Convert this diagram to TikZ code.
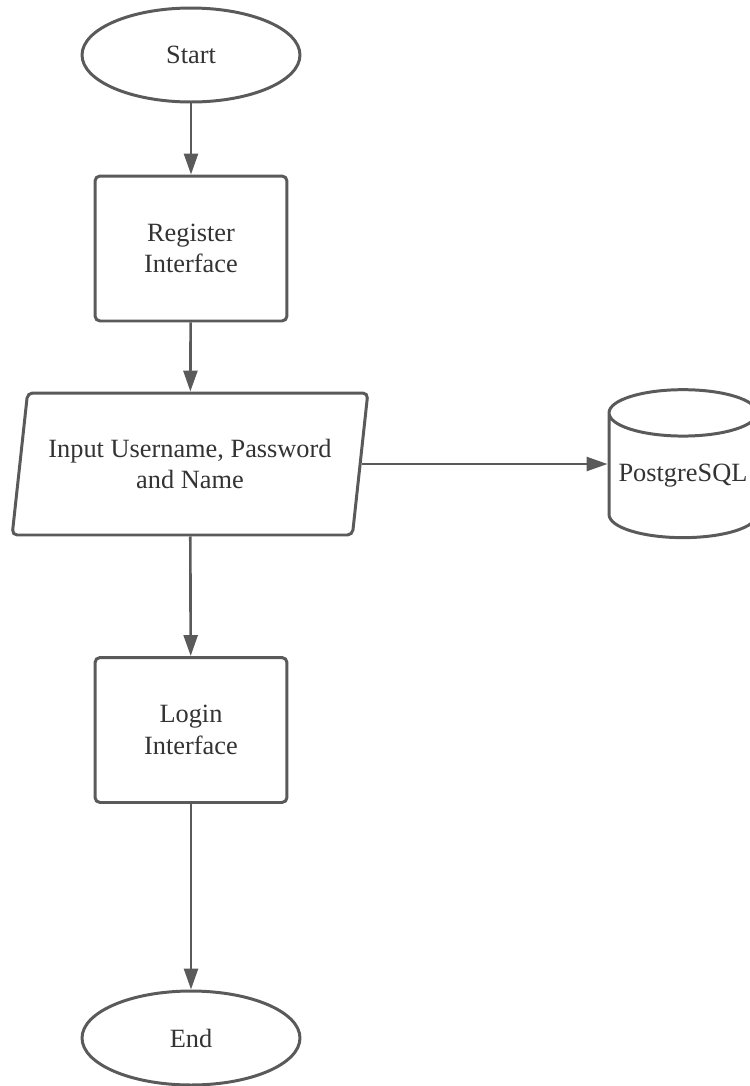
\documentclass[tikz,border=0pt]{standalone}
\usepackage{fontspec}
\setmainfont{Liberation Serif}
\usetikzlibrary{shapes.geometric,arrows.meta,positioning}
\definecolor{linegray}{HTML}{5A5A5A}
\definecolor{textgray}{HTML}{333333}

\begin{document}
\begin{tikzpicture}[x=0.02cm,y=-0.02cm,
                every node/.style={font=\fontsize{15}{18}\selectfont, text=textgray, align=center},
                flowbase/.style={draw=linegray, line width=1.7pt, fill=white, inner sep=0pt},
                terminal/.style={flowbase, ellipse, minimum width=4.36cm, minimum height=1.88cm},
                process/.style={flowbase, rectangle, rounded corners=0.1cm, minimum width=3.84cm, minimum height=2.9cm},
                io/.style={flowbase, trapezium, trapezium left angle=75, trapezium right angle=105,
                    trapezium stretches=true, rounded corners=0.1cm, minimum width=7.12cm, minimum height=2.84cm},
                database/.style={flowbase, cylinder, shape border rotate=90, aspect=0.36,
                    minimum width=2.96cm, minimum height=2.96cm},
                flow/.style={draw=linegray, line width=1.5pt, -{Triangle[length=0.42cm,width=0.28cm]}}]
                \useasboundingbox (0,0) rectangle (750,1086);
                \node[terminal] (start) at (191,55) {Start};
                \node[process] (register) at (191,248.5) {Register\\Interface};
                \node[io] (input) at (190,464) {Input Username, Password\\and Name};
                \node[database] (db) at (683,476) {PostgreSQL};
                \node[process] (login) at (191,730) {Login\\Interface};
                \node[terminal] (finish) at (191,1038) {End};
                \draw[flow] (start) -- (register);
                \draw[flow] (register) -- (input);
                \draw[flow] (input.east) -- (input.east -| db.west);
                \draw[flow] (input) -- (login);
                \draw[flow] (login) -- (finish);
            \end{tikzpicture}
\end{document}
